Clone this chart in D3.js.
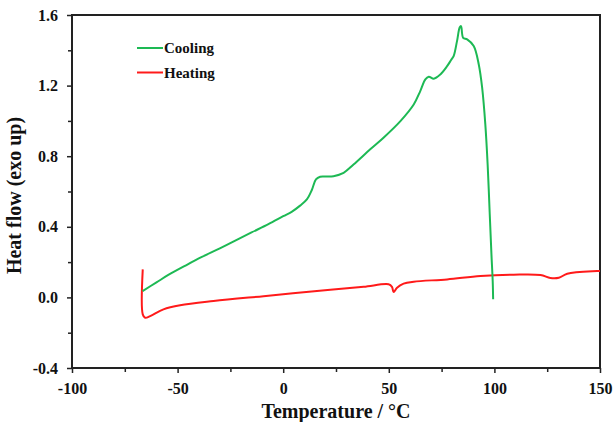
<!DOCTYPE html>
<html><head><meta charset="utf-8">
<script src="https://cdn.jsdelivr.net/npm/d3@7"></script>
<style>body{margin:0;background:#fff}svg{display:block}</style>
</head><body>
<script>
const xTicks = [-100, -50, 0, 50, 100, 150];
const yTicks = [-0.4, 0.0, 0.4, 0.8, 1.2, 1.6];
const yTickLabels = ["-0.4", "0.0", "0.4", "0.8", "1.2", "1.6"];
const xMinor = [-75, -25, 25, 75, 125];
const yMinor = [-0.2, 0.2, 0.6, 1.0, 1.4];
const seriesNames = ["Cooling", "Heating"];
const seriesColors = ["#1db954", "#ff1a1a"];

const coolingT = [-66.6, -60, -54.4, -46, -38.5, -30, -22.7, -15, -7, 0, 4, 8, 11.2, 13.6, 15.5, 17.5, 20.5, 23.8, 28.6, 33.3, 41.2, 47.5, 55.5, 61.8, 64.9, 67.3, 68.9, 71.3, 74.4, 77.6, 79.5, 80.7, 82.3, 83.6, 84.2, 85.2, 87.1, 90.2, 92.6, 94.2, 95.7, 96.8, 97.8, 98.6, 99.2, 99.4];
const coolingQ = [0.036, 0.085, 0.127, 0.182, 0.229, 0.278, 0.322, 0.368, 0.415, 0.46, 0.485, 0.52, 0.555, 0.61, 0.668, 0.684, 0.685, 0.687, 0.706, 0.753, 0.839, 0.905, 0.999, 1.093, 1.169, 1.235, 1.25, 1.239, 1.263, 1.31, 1.345, 1.367, 1.452, 1.531, 1.537, 1.471, 1.462, 1.424, 1.32, 1.188, 0.98, 0.753, 0.47, 0.244, 0.092, -0.011];

const heatingT = [-66.5, -66.5, -65.4, -63, -56.7, -48.8, -33, -9.3, 22.3, 38.1, 49.9, 51.5, 52.3, 53.9, 57, 61.8, 77.6, 93.4, 109.1, 121.8, 126.5, 130.5, 134.5, 148.7, 150];
const heatingQ = [0.159, -0.096, -0.115, -0.106, -0.068, -0.045, -0.021, 0.007, 0.043, 0.06, 0.074, 0.06, 0.03, 0.055, 0.078, 0.089, 0.102, 0.121, 0.129, 0.127, 0.11, 0.111, 0.134, 0.149, 0.15];

const W = 616, H = 422;
const m = {l: 72, r: 600, t: 15, b: 368};
const x = d3.scaleLinear().domain([-100, 150]).range([m.l, m.r]);
const y = d3.scaleLinear().domain([-0.4, 1.6]).range([m.b, m.t]);

const svg = d3.select("body").append("svg").attr("width", W).attr("height", H);
const font = "'Liberation Serif', 'Times New Roman', serif";

// frame
svg.append("rect").attr("x", m.l).attr("y", m.t).attr("width", m.r - m.l).attr("height", m.b - m.t)
  .attr("fill", "none").attr("stroke", "#222").attr("stroke-width", 2);

// x axis
const xAxis = d3.axisBottom(x).tickValues(xTicks).tickSize(5).tickPadding(10).tickFormat(d => String(d));
const gx = svg.append("g").attr("transform", `translate(0,${m.b})`).call(xAxis);
gx.select(".domain").remove();
gx.selectAll("line").attr("stroke", "#222").attr("stroke-width", 1.5);
gx.selectAll("text").attr("font-family", font).attr("font-weight", "bold").attr("font-size", 16).attr("fill", "#111");
const gxm = svg.append("g").attr("transform", `translate(0,${m.b})`)
  .call(d3.axisBottom(x).tickValues(xMinor).tickSize(4).tickFormat(""));
gxm.select(".domain").remove();
gxm.selectAll("line").attr("stroke", "#222").attr("stroke-width", 1.5);

// y axis
const yAxis = d3.axisLeft(y).tickValues(yTicks).tickSize(5).tickPadding(9).tickFormat((d, i) => yTickLabels[i]);
const gy = svg.append("g").attr("transform", `translate(${m.l},0)`).call(yAxis);
gy.select(".domain").remove();
gy.selectAll("line").attr("stroke", "#222").attr("stroke-width", 1.5);
gy.selectAll("text").attr("font-family", font).attr("font-weight", "bold").attr("font-size", 16).attr("fill", "#111");
const gym = svg.append("g").attr("transform", `translate(${m.l},0)`)
  .call(d3.axisLeft(y).tickValues(yMinor).tickSize(4).tickFormat(""));
gym.select(".domain").remove();
gym.selectAll("line").attr("stroke", "#222").attr("stroke-width", 1.5);

// axis titles
svg.append("text").attr("x", (m.l + m.r) / 2).attr("y", 418).attr("text-anchor", "middle")
  .attr("font-family", font).attr("font-weight", "bold").attr("font-size", 20).attr("fill", "#111")
  .text("Temperature / °C");
svg.append("text").attr("transform", `translate(21,${(m.t + m.b) / 2 + 4}) rotate(-90)`).attr("text-anchor", "middle")
  .attr("font-family", font).attr("font-weight", "bold").attr("font-size", 20).attr("fill", "#111")
  .text("Heat flow (exo up)");

// lines
const line = d3.line().x(d => x(d[0])).y(d => y(d[1])).curve(d3.curveCatmullRom.alpha(0.5));
const heat = heatingT.map((t, i) => [t, heatingQ[i]]);
const cool = coolingT.map((t, i) => [t, coolingQ[i]]);
svg.append("path").datum(heat).attr("d", line).attr("fill", "none").attr("stroke", seriesColors[1]).attr("stroke-width", 2).attr("stroke-linejoin", "round");
svg.append("path").datum(cool).attr("d", line).attr("fill", "none").attr("stroke", seriesColors[0]).attr("stroke-width", 2).attr("stroke-linejoin", "round");

// legend
seriesNames.forEach((name, i) => {
  const ly = 48 + i * 24.5;
  svg.append("line").attr("x1", 137).attr("x2", 163).attr("y1", ly).attr("y2", ly)
    .attr("stroke", seriesColors[i]).attr("stroke-width", 2);
  svg.append("text").attr("x", 164).attr("y", ly + 5)
    .attr("font-family", font).attr("font-weight", "bold").attr("font-size", 15).attr("fill", "#111")
    .text(name);
});
</script>
</body></html>
